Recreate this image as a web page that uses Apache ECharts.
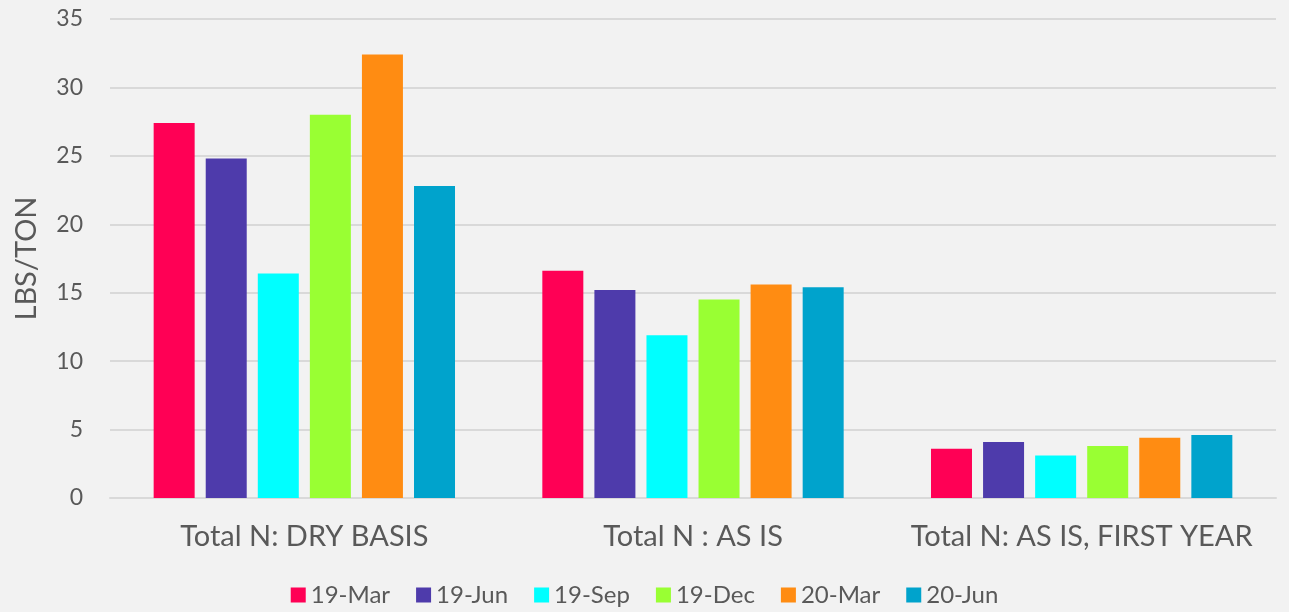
<!DOCTYPE html>
<html>
<head>
<meta charset="utf-8">
<script src="https://cdn.jsdelivr.net/npm/echarts@6/dist/echarts.min.js"></script>
<style>
  html, body { margin: 0; padding: 0; background: #f2f2f2; }
  #chart { width: 1289px; height: 612px; }
</style>
</head>
<body>
<div id="chart"></div>
<script>
// categories and series
const categories = ['Total N: DRY BASIS', 'Total N : AS IS', 'Total N: AS IS, FIRST YEAR']
const seriesNames = ['19-Mar', '19-Jun', '19-Sep', '19-Dec', '20-Mar', '20-Jun']
const mar19 = [27.4, 16.6, 3.6]
const jun19 = [24.8, 15.2, 4.1]
const sep19 = [16.4, 11.9, 3.1]
const dec19 = [28.0, 14.5, 3.8]
const mar20 = [32.4, 15.6, 4.4]
const jun20 = [22.8, 15.4, 4.6]
const colors = ['#ff0055', '#4e3bab', '#00ffff', '#99ff33', '#ff8c12', '#00a3cc']

const values = [mar19, jun19, sep19, dec19, mar20, jun20]
const font = 'Lato, "Open Sans", sans-serif'
const textColor = '#595959'

const chart = echarts.init(document.getElementById('chart'))
chart.setOption({
  backgroundColor: '#f2f2f2',
  animation: false,
  color: colors,
  grid: {
    left: 110,
    right: 13,
    top: 19,
    bottom: 114
  },
  legend: {
    bottom: 0,
    left: 'center',
    itemWidth: 15,
    itemHeight: 15,
    itemGap: 26,
    icon: 'rect',
    textStyle: { fontFamily: font, fontSize: 24, color: textColor }
  },
  xAxis: {
    type: 'category',
    data: categories,
    axisLine: { lineStyle: { color: '#d9d9d9', width: 2 } },
    axisTick: { show: false },
    axisLabel: {
      interval: 0,
      hideOverlap: false,
      fontFamily: font,
      fontSize: 29,
      color: textColor,
      margin: 24
    }
  },
  yAxis: {
    type: 'value',
    min: 0,
    max: 35,
    interval: 5,
    name: 'LBS/TON',
    nameLocation: 'middle',
    nameGap: 69,
    nameTextStyle: { fontFamily: font, fontSize: 29, color: textColor },
    axisLine: { show: false },
    axisTick: { show: false },
    axisLabel: { fontFamily: font, fontSize: 23, color: textColor, margin: 27 },
    splitLine: { lineStyle: { color: '#d9d9d9', width: 2 } }
  },
  series: seriesNames.map((name, i) => ({
    name: name,
    type: 'bar',
    data: values[i],
    barWidth: 41,
    barGap: '27%'
  }))
})
</script>
</body>
</html>
